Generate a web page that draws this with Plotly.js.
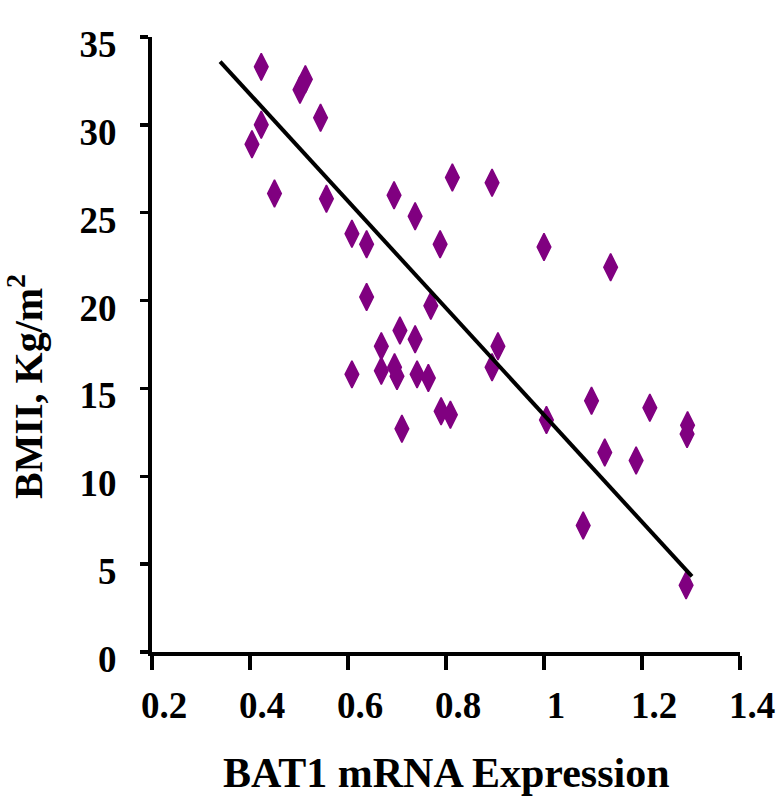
<!DOCTYPE html>
<html>
<head>
<meta charset="utf-8">
<script src="https://cdn.plot.ly/plotly-3.0.1.min.js"></script>
<style>
  html, body { margin: 0; padding: 0; background: #ffffff; }
  #chart { width: 779px; height: 800px; }
</style>
</head>
<body>
<div id="chart"></div>
<script>
// BAT1 mRNA expression (x) vs BMI (y)
const bat1Expression = [
  0.423, 0.513, 0.502, 0.544, 0.423, 0.404, 0.450, 0.556, 0.694, 0.813,
  0.737, 0.608, 0.638, 0.788, 0.638, 0.769, 0.706, 0.737, 0.668, 0.608,
  0.668, 0.695, 0.700, 0.741, 0.764, 0.790, 0.809, 0.710, 0.894, 1.000,
  1.136, 0.906, 0.894, 1.097, 1.216, 1.005, 1.293, 1.292, 1.124, 1.188,
  1.080, 1.290
];
const bmiValues = [
  33.3, 32.6, 32.0, 30.4, 30.0, 28.9, 26.1, 25.8, 26.0, 27.0,
  24.8, 23.8, 23.2, 23.2, 20.2, 19.7, 18.3, 17.8, 17.4, 15.8,
  16.0, 16.2, 15.7, 15.8, 15.6, 13.7, 13.5, 12.7, 26.7, 23.05,
  21.9, 17.4, 16.2, 14.3, 13.9, 13.2, 12.9, 12.4, 11.35, 10.9,
  7.2, 3.8
];
// linear trend line end points
const trendX = [0.339, 1.302];
const trendY = [33.6, 4.3];

const xTickVals = [0.2, 0.4, 0.6, 0.8, 1, 1.2, 1.4];
const xTickText = ['0.2', '0.4', '0.6', '0.8', '1', '1.2', '1.4'];
const yTickVals = [0, 5, 10, 15, 20, 25, 30, 35];
const yTickText = ['0', '5', '10', '15', '20', '25', '30', '35'];

const xTitle = 'BAT1 mRNA Expression';
const yTitle = 'BMII, Kg/m<sup>2</sup>';

const W = 779, H = 800;
const M = { l: 152, r: 39, t: 37, b: 148 };
const plotW = W - M.l - M.r, plotH = H - M.t - M.b;
const pxToPaperX = px => (px - M.l) / plotW;
const pxToPaperY = py => (H - M.b - py) / plotH;

const tickFont = { family: 'Liberation Serif, Times New Roman, serif', size: 37, color: '#000000', weight: 'bold' };
const xTitleFont = { family: 'Liberation Serif, Times New Roman, serif', size: 42, color: '#000000', weight: 'bold' };
const yTitleFont = { family: 'Liberation Serif, Times New Roman, serif', size: 40, color: '#000000', weight: 'bold' };

const traces = [
  {
    type: 'scatter', mode: 'markers',
    x: bat1Expression, y: bmiValues,
    marker: { symbol: 'diamond-tall', size: 19.5, color: '#800080', line: { color: '#800080', width: 1.5 } },
    hoverinfo: 'x+y', showlegend: false
  },
  {
    type: 'scatter', mode: 'lines',
    x: trendX, y: trendY,
    line: { color: '#000000', width: 4 },
    hoverinfo: 'skip', showlegend: false
  }
];

const layout = {
  width: W, height: H,
  margin: M,
  paper_bgcolor: '#ffffff', plot_bgcolor: '#ffffff',
  showlegend: false,
  xaxis: {
    range: [0.2, 1.4], tickmode: 'array', tickvals: xTickVals, ticktext: xTickText,
    showgrid: false, zeroline: false, showline: true, linecolor: '#000000', linewidth: 4,
    ticks: 'outside', ticklen: 14, tickwidth: 3.5, tickcolor: '#000000',
    tickfont: tickFont, ticklabelshift: 12, ticklabelstandoff: 4,
    fixedrange: true
  },
  yaxis: {
    range: [0, 35], tickmode: 'array', tickvals: yTickVals, ticktext: yTickText,
    showgrid: false, zeroline: false, showline: true, linecolor: '#000000', linewidth: 4,
    ticks: 'outside', ticklen: 8, tickwidth: 3.5, tickcolor: '#000000',
    tickfont: tickFont, ticklabelshift: 7, ticklabelstandoff: 16,
    fixedrange: true
  },
  annotations: [
    {
      text: xTitle, xref: 'paper', yref: 'paper',
      x: pxToPaperX(446), y: pxToPaperY(773),
      xanchor: 'center', yanchor: 'middle', showarrow: false, font: xTitleFont
    },
    {
      text: yTitle, xref: 'paper', yref: 'paper', textangle: -90,
      x: pxToPaperX(25), y: pxToPaperY(387),
      xanchor: 'center', yanchor: 'middle', showarrow: false, font: yTitleFont
    }
  ]
};

Plotly.newPlot('chart', traces, layout, { displayModeBar: false, staticPlot: true });
</script>
</body>
</html>
